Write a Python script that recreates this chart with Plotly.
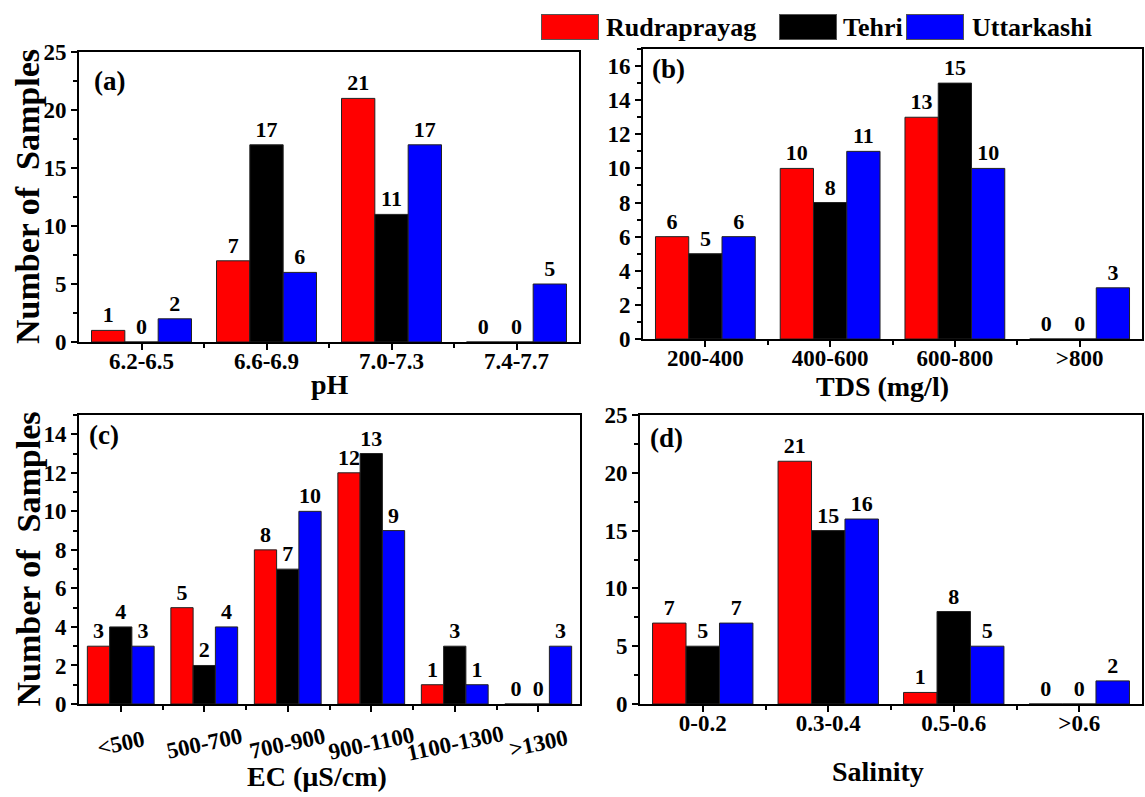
import plotly.graph_objects as go

# ---------------- data ----------------
series = ["Rudraprayag", "Tehri", "Uttarkashi"]
colors = ["#FF0000", "#000000", "#0000FF"]

ph_cats = ["6.2-6.5", "6.6-6.9", "7.0-7.3", "7.4-7.7"]
ph_rudra = [1, 7, 21, 0]
ph_tehri = [0, 17, 11, 0]
ph_uttar = [2, 6, 17, 5]

tds_cats = ["200-400", "400-600", "600-800", ">800"]
tds_rudra = [6, 10, 13, 0]
tds_tehri = [5, 8, 15, 0]
tds_uttar = [6, 11, 10, 3]

ec_cats = ["<500", "500-700", "700-900", "900-1100", "1100-1300", ">1300"]
ec_rudra = [3, 5, 8, 12, 1, 0]
ec_tehri = [4, 2, 7, 13, 3, 0]
ec_uttar = [3, 4, 10, 9, 1, 3]

sal_cats = ["0-0.2", "0.3-0.4", "0.5-0.6", ">0.6"]
sal_rudra = [7, 21, 1, 0]
sal_tehri = [5, 15, 8, 0]
sal_uttar = [7, 16, 5, 2]

x_titles = ["pH", "TDS (mg/l)", "EC (\u00b5S/cm)", "Salinity"]
panel_tags = ["(a)", "(b)", "(c)", "(d)"]
y_title = "Number of  Samples"

# ---------------- layout config ----------------
W, H = 1145, 797
FONT = "Liberation Serif, Times New Roman, Times, serif"
BOLD = "bold"

panels = [
    dict(cats=ph_cats, vals=[ph_rudra, ph_tehri, ph_uttar], ymax=25, dtick=5,
         px=(79, 579), py=(52, 342), tag=(13, 0.90), angle=None, ytitle=True,
         xt=(330, 384)),
    dict(cats=tds_cats, vals=[tds_rudra, tds_tehri, tds_uttar], ymax=17, dtick=2,
         px=(643, 1142), py=(49, 339), tag=(7, 0.93), angle=None, ytitle=False,
         xt=(882, 386)),
    dict(cats=ec_cats, vals=[ec_rudra, ec_tehri, ec_uttar], ymax=15, dtick=2,
         px=(79, 580), py=(415, 704), tag=(8, 0.93), angle=-12, ytitle=True,
         xt=(317, 776)),
    dict(cats=sal_cats, vals=[sal_rudra, sal_tehri, sal_uttar], ymax=25, dtick=5,
         px=(640, 1142), py=(415, 704), tag=(8, 0.92), angle=None, ytitle=False,
         xt=(878, 771)),
]

fig = go.Figure()
annotations = []
tickfont = dict(family=FONT, size=23, color="black", weight=BOLD)

for i, p in enumerate(panels):
    k = "" if i == 0 else str(i + 1)
    kt = str(i + 5)   # extra top axis
    kr = str(i + 9)   # extra right axis
    xa, ya = "x" + k, "y" + k
    n = len(p["cats"])
    xs = list(range(n))
    for s, (name, col) in enumerate(zip(series, colors)):
        fig.add_trace(go.Bar(
            x=xs, y=p["vals"][s], name=name, xaxis=xa, yaxis=ya,
            marker=dict(color=col, line=dict(color="#222222", width=1)),
            text=[str(v) for v in p["vals"][s]], textposition="outside",
            textfont=dict(family=FONT, size=22, color="black", weight=BOLD),
            constraintext="none", cliponaxis=False, showlegend=False,
        ))
    xdom = [p["px"][0] / W, p["px"][1] / W]
    ydom = [1 - p["py"][1] / H, 1 - p["py"][0] / H]
    common = dict(showline=True, linecolor="black", linewidth=2, mirror=True,
                  showgrid=False, zeroline=False, ticks="outside", ticklen=6,
                  tickwidth=1.5, tickcolor="black", automargin=False,
                  tickfont=tickfont)
    xminor = [j + 0.5 for j in range(n - 1)]
    rotated = p["angle"] is not None
    fig.layout["xaxis" + k] = dict(
        domain=xdom, anchor=ya, range=[-0.5, n - 0.5],
        tickmode="array", tickvals=xs, ticktext=p["cats"],
        showticklabels=not rotated, ticklabelstandoff=-9,
        minor=dict(tickvals=xminor, ticks="outside", ticklen=4, tickwidth=1.5,
                   tickcolor="black"),
        **common)
    fig.layout["yaxis" + k] = dict(
        domain=ydom, anchor=xa, range=[0, p["ymax"]], dtick=p["dtick"], tick0=0,
        minor=dict(dtick=p["dtick"] / 2, ticks="outside", ticklen=4,
                   tickwidth=1.5, tickcolor="black"),
        **common)
    # rotated category labels (centred under their ticks)
    if rotated:
        for j, c in enumerate(p["cats"]):
            annotations.append(dict(
                text=c, xref=xa, yref=ya + " domain", x=j, y=0, yshift=-39,
                xanchor="center", yanchor="middle", textangle=p["angle"],
                showarrow=False, font=tickfont))
    # inward ticks on the top and right frame edges
    fig.layout["xaxis" + kt] = dict(
        overlaying=xa, anchor=ya, side="top", range=[-0.5, n - 0.5],
        tickmode="array", tickvals=xs, showticklabels=False, ticks="inside",
        ticklen=6, tickwidth=1.5, tickcolor="black", showgrid=False,
        zeroline=False, showline=False,
        minor=dict(tickvals=xminor, ticks="inside", ticklen=4, tickwidth=1.5,
                   tickcolor="black"))
    fig.layout["yaxis" + kr] = dict(
        overlaying=ya, anchor=xa, side="right", range=[0, p["ymax"]],
        dtick=p["dtick"], tick0=0, showticklabels=False, ticks="inside",
        ticklen=6, tickwidth=1.5, tickcolor="black", showgrid=False,
        zeroline=False, showline=False,
        minor=dict(dtick=p["dtick"] / 2, ticks="inside", ticklen=4,
                   tickwidth=1.5, tickcolor="black"))
    # x-axis title
    annotations.append(dict(
        text=x_titles[i], xref="paper", yref="paper",
        x=p["xt"][0] / W, y=1 - p["xt"][1] / H, xanchor="center", yanchor="middle",
        showarrow=False,
        font=dict(family=FONT, size=28, color="black", weight=BOLD)))
    # y-axis title
    if p["ytitle"]:
        annotations.append(dict(
            text=y_title, xref="paper", yref="paper", textangle=-90,
            x=28 / W, y=1 - (p["py"][0] + p["py"][1]) / 2 / H,
            xanchor="center", yanchor="middle", showarrow=False,
            font=dict(family=FONT, size=34, color="black", weight=BOLD)))
    # panel tag
    annotations.append(dict(
        text=panel_tags[i], xref=xa + " domain", yref=ya + " domain",
        x=p["tag"][0] / (p["px"][1] - p["px"][0]), y=p["tag"][1],
        xanchor="left", yanchor="middle", showarrow=False,
        font=dict(family=FONT, size=27, color="black", weight=BOLD)))

# ---------------- legend (large colour boxes like the original) ----------------
legend_box_px = [570, 808, 935]
legend_txt_px = [604, 841, 970]
for name, col, bx, tx in zip(series, colors, legend_box_px, legend_txt_px):
    annotations.append(dict(
        text=" ", xref="paper", yref="paper", x=bx / W, y=1 - 27.5 / H,
        xanchor="center", yanchor="middle", showarrow=False,
        width=56, height=24, bgcolor=col, bordercolor="#555555", borderwidth=1,
        borderpad=0))
    annotations.append(dict(
        text=name, xref="paper", yref="paper", x=tx / W, y=1 - 27.5 / H,
        xanchor="left", yanchor="middle", showarrow=False,
        font=dict(family=FONT, size=26, color="black", weight=BOLD)))

fig.update_layout(
    width=W, height=H, autosize=False,
    margin=dict(l=0, r=0, t=0, b=0),
    paper_bgcolor="white", plot_bgcolor="white",
    barmode="group", bargap=0.2, bargroupgap=0,
    annotations=annotations,
    font=dict(family=FONT, color="black"),
)

fig.write_html("out.html", config={"displayModeBar": False},
               post_script="document.body.style.margin='0px';")
